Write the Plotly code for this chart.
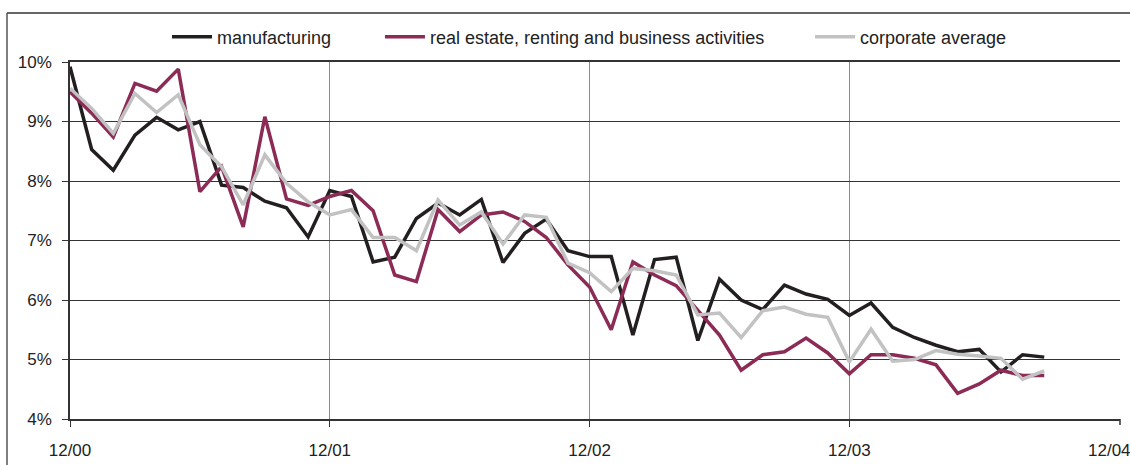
import plotly.graph_objects as go

# month index since 12/00
months = list(range(46))
tick_months = [0, 12, 24, 36, 48]
tick_labels = ["12/00", "12/01", "12/02", "12/03", "12/04"]
y_ticks = [4, 5, 6, 7, 8, 9, 10]
y_labels = ["4%", "5%", "6%", "7%", "8%", "9%", "10%"]

manufacturing = [9.92, 8.53, 8.18, 8.77, 9.07, 8.86, 9.00, 7.93, 7.89, 7.66,
                 7.55, 7.06, 7.84, 7.74, 6.64, 6.72, 7.37, 7.63, 7.43, 7.69,
                 6.63, 7.12, 7.36, 6.83, 6.73, 6.73, 5.41, 6.68, 6.72, 5.32,
                 6.35, 6.00, 5.84, 6.25, 6.10, 6.01, 5.74, 5.95, 5.54, 5.37,
                 5.24, 5.13, 5.17, 4.79, 5.08, 5.04]
real_estate = [9.50, 9.14, 8.74, 9.64, 9.51, 9.88, 7.82, 8.24, 7.23, 9.08,
               7.70, 7.59, 7.74, 7.84, 7.50, 6.42, 6.31, 7.52, 7.15, 7.43,
               7.48, 7.32, 7.05, 6.59, 6.22, 5.50, 6.64, 6.42, 6.24, 5.83,
               5.41, 4.82, 5.08, 5.13, 5.36, 5.11, 4.76, 5.08, 5.08, 5.02,
               4.91, 4.43, 4.59, 4.82, 4.73, 4.73]
corporate = [9.56, 9.22, 8.80, 9.47, 9.15, 9.45, 8.61, 8.24, 7.60, 8.44,
             7.96, 7.65, 7.43, 7.52, 7.05, 7.05, 6.83, 7.68, 7.26, 7.48,
             6.94, 7.43, 7.39, 6.62, 6.46, 6.14, 6.53, 6.49, 6.42, 5.75,
             5.78, 5.37, 5.82, 5.88, 5.76, 5.71, 4.96, 5.51, 4.97, 5.00,
             5.15, 5.09, 5.06, 5.02, 4.67, 4.81]

series = [
    ("manufacturing", manufacturing, "#231f20", "legend"),
    ("real estate, renting and business activities", real_estate, "#8c2b56", "legend2"),
    ("corporate average", corporate, "#c2c2c2", "legend3"),
]

fig = go.Figure()
for name, vals, col, lg in series:
    fig.add_trace(go.Scatter(x=months, y=vals, mode="lines", name=name,
                             line=dict(color=col, width=3.5), legend=lg))

font = dict(family="Liberation Sans, Arial, sans-serif", size=17, color="#222222")
lfont = dict(family="Liberation Sans, Arial, sans-serif", size=18, color="#222222")

def leg(x):
    return dict(orientation="h", x=x, xanchor="left", y=1.07, yanchor="middle",
                font=lfont, bgcolor="rgba(0,0,0,0)", itemwidth=40)

fig.update_layout(
    width=1130, height=465,
    margin=dict(l=70, r=10, t=62, b=46),
    paper_bgcolor="white", plot_bgcolor="white",
    font=font,
    showlegend=True,
    legend=leg(0.0924),
    legend2=leg(0.2952),
    legend3=leg(0.7048),
    xaxis=dict(range=[0, 48.5], tickmode="array", tickvals=tick_months[:-1],
               ticktext=tick_labels[:-1], showgrid=False, automargin=False,
               minor=dict(tickmode="array", tickvals=[12, 24, 36], showgrid=True,
                          gridcolor="#8a8a8a", gridwidth=1, ticks=""),
               ticks="outside", ticklen=6, tickcolor="#333333",
               showline=True, linecolor="#333333", linewidth=1.5, mirror=True,
               ticklabelstandoff=9, zeroline=False),
    yaxis=dict(range=[4, 10], tickmode="array", tickvals=y_ticks, ticktext=y_labels,
               showgrid=True, gridcolor="#333333", gridwidth=1, automargin=False,
               ticks="outside", ticklen=6, tickcolor="#333333",
               showline=True, linecolor="#333333", linewidth=1.5,
               ticklabelstandoff=7, zeroline=False),
    annotations=[
        dict(x=tick_months[-1], xref="x", y=-0.087, yref="paper", text=tick_labels[-1],
             showarrow=False, xanchor="center", yanchor="middle", font=font),
    ],
    shapes=[
        dict(type="line", xref="paper", yref="paper", x0=-0.06, x1=1.2, y0=1.137, y1=1.137,
             line=dict(color="#333333", width=1.5)),
        dict(type="line", xref="paper", yref="paper", x0=-0.06, x1=-0.06, y0=1.137, y1=-0.2,
             line=dict(color="#555555", width=1.5)),
        dict(type="line", xref="paper", yref="paper", x0=1, x1=1, y0=0, y1=-0.017,
             line=dict(color="#333333", width=1.5)),
    ],
)

fig.write_html("out.html", config={"displayModeBar": False},
               post_script="document.body.style.margin='0';")
